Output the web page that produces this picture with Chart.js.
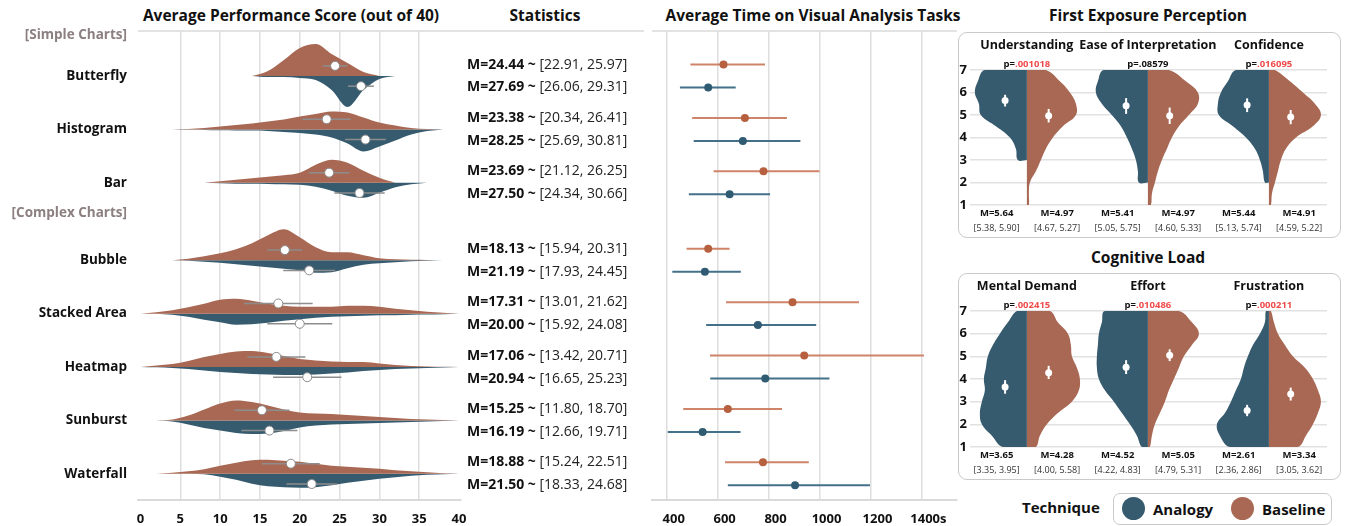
<!DOCTYPE html>
<html>
<head>
<meta charset="utf-8">
<title>Analogy vs Baseline</title>
<script src="https://cdn.jsdelivr.net/npm/chart.js@4.4.1/dist/chart.umd.min.js"></script>
<style>
  body { margin: 0; width: 1347px; height: 526px; position: relative; overflow: hidden; background: #fff; font-family: 'Open Sans', sans-serif; color: #111; }
  .abs { position: absolute; }
  .title { font-weight: 700; font-size: 15.5px; line-height: 20px; text-align: center; white-space: nowrap; }
  .rule { height: 2px; background: #e3e3e3; }
  .panel { border: 1.5px solid #cacaca; border-radius: 9px; box-sizing: border-box; }
  canvas { position: absolute; }
  .legend { border: 1.5px solid #cacaca; border-radius: 7px; box-sizing: border-box; }
  .dot { position: absolute; width: 23px; height: 23px; border-radius: 50%; }
  .lab { position: absolute; font-weight: 700; font-size: 15px; line-height: 20px; white-space: nowrap; }
</style>
</head>
<body>
<div class="abs title" style="left:141px;top:5px;width:300px">Average Performance Score (out of 40)</div>
<div class="abs title" style="left:495px;top:5px;width:100px">Statistics</div>
<div class="abs title" style="left:663px;top:5px;width:300px">Average Time on Visual Analysis Tasks</div>
<div class="abs title" style="left:998px;top:5px;width:300px">First Exposure Perception</div>
<div class="abs title" style="left:998px;top:247px;width:300px">Cognitive Load</div>
<div class="abs rule" style="left:138px;top:30px;width:323px"></div>
<div class="abs rule" style="left:440px;top:30px;width:204px"></div>
<div class="abs rule" style="left:652px;top:30px;width:305px"></div>
<div class="abs panel" style="left:958px;top:32px;width:383px;height:206px"></div>
<div class="abs panel" style="left:958px;top:273px;width:383px;height:207px"></div>

<canvas id="perf" width="480" height="526" style="left:0;top:0"></canvas>
<canvas id="time" width="530" height="526" style="left:440px;top:0"></canvas>
<canvas id="perception" width="391" height="206" style="left:950px;top:32px"></canvas>
<canvas id="load" width="391" height="207" style="left:950px;top:273px"></canvas>

<div class="lab" style="left:1022px;top:497px">Technique</div>
<div class="abs legend" style="left:1113px;top:493px;width:219px;height:32px">
  <div class="dot" style="left:8px;top:3px;background:#365b6f"></div>
  <div class="lab" style="left:39px;top:5px">Analogy</div>
  <div class="dot" style="left:117px;top:3px;background:#a86853"></div>
  <div class="lab" style="left:148px;top:5px">Baseline</div>
</div>

<script>
'use strict';

// Colours

const BROWN = '#a86853';
const TEAL = '#365b6f';
const TIME_BROWN = '#b6603f';
const TIME_BROWN_LINE = '#cf8469';
const TIME_TEAL = '#2f5b73';
const TIME_TEAL_LINE = '#45708a';

// Performance score data (baseline = brown, analogy = teal)

const categories = ['Butterfly', 'Histogram', 'Bar', 'Bubble', 'Stacked Area', 'Heatmap', 'Sunburst', 'Waterfall'];
const groupHeaders = ['[Simple Charts]', '[Complex Charts]'];
const scoreTicks = [0, 5, 10, 15, 20, 25, 30, 35, 40];
const scoreGrid = [0, 2, 4, 6, 8, 10, 12, 14, 16, 18, 20, 22, 24, 26, 28, 30, 32, 34, 36, 38, 40];

// violin half heights, one row per category
const baseDensity = [
  [0, 0, 0, 0, 0, 0, 0, 0, 5, 16, 28, 32, 22, 13, 4, 0, 0, 0, 0, 0, 0],
  [0, 0, 0, 0.5, 1.5, 3, 4.5, 6, 8, 10, 13, 15.5, 18, 17, 12, 7, 4, 1.5, 0.5, 0, 0],
  [0, 0, 0, 0, 0, 1.5, 3, 4.5, 6, 7.5, 10, 18, 23, 20, 12, 5, 0, 0, 0, 0, 0],
  [0, 0, 0, 1.5, 4, 7, 11, 17, 25, 31, 23, 13, 8, 8, 5, 2, 1, 0.5, 0.3, 0, 0],
  [0, 1.5, 3.5, 6.5, 10, 14, 15, 13, 10, 8, 7, 7, 7, 8, 8, 7, 5, 3.5, 2, 1, 0],
  [0, 1.5, 3, 6, 10, 13, 15.5, 16, 14, 11, 8, 6.5, 5.5, 5, 5, 3.5, 2, 1, 0.5, 0.2, 0],
  [0, 0, 1, 5, 11, 17, 20, 18.5, 15, 11, 8, 7, 6.5, 5.5, 4.5, 3.5, 2.5, 1.5, 1, 0.5, 0],
  [0, 0, 1, 2.5, 4.5, 8, 11, 13.5, 14, 13, 12, 10, 8, 7, 6, 5, 3.5, 2.5, 1.5, 0.5, 0]
];
const anaDensity = [
  [0, 0, 0, 0, 0, 0, 0, 0, 1, 1, 2, 4, 14, 31, 14, 3, 0, 0, 0, 0, 0],
  [0, 0, 0, 0.3, 0.5, 0.8, 1, 1.2, 1.5, 2.5, 3.5, 5, 8, 14, 22, 17, 11, 5, 1.5, 0, 0],
  [0, 0, 0, 0, 0, 0.5, 1, 1, 1.2, 1.5, 2, 4, 8, 13, 15, 10, 4.5, 1.5, 0, 0, 0],
  [0, 0, 0, 0.5, 1.5, 2.5, 4, 5.5, 7, 8.5, 10, 12.5, 12, 8, 4.5, 3, 2, 1, 0.5, 0, 0],
  [0, 0, 1, 3, 6, 8.5, 11, 10.5, 9, 7, 5.5, 4, 3, 2.5, 2, 1.5, 1.5, 1, 0.8, 0.5, 0],
  [0, 0.3, 1, 2, 3.5, 5, 6, 7, 7.5, 8, 8, 7.5, 6.5, 5.5, 4, 3, 2, 1.5, 1, 0.5, 0],
  [0, 0, 1, 4, 7.5, 10, 12.5, 13.5, 13, 10.5, 7, 5, 4, 3.5, 3, 2.5, 2, 1.5, 1, 0.5, 0],
  [0, 0, 0, 0, 0.5, 3, 6, 10, 12.5, 13.5, 14, 13.5, 11.5, 9, 7, 5, 3.5, 2, 1, 0.5, 0]
];

const baseMean = [24.44, 23.38, 23.69, 18.13, 17.31, 17.06, 15.25, 18.88];
const baseLo = [22.91, 20.34, 21.12, 15.94, 13.01, 13.42, 11.80, 15.24];
const baseHi = [25.97, 26.41, 26.25, 20.31, 21.62, 20.71, 18.70, 22.51];
const anaMean = [27.69, 28.25, 27.50, 21.19, 20.00, 20.94, 16.19, 21.50];
const anaLo = [26.06, 25.69, 24.34, 17.93, 15.92, 16.65, 12.66, 18.33];
const anaHi = [29.31, 30.81, 30.66, 24.45, 24.08, 25.23, 19.71, 24.68];

// Time on task data (seconds)

const timeTicks = [400, 600, 800, 1000, 1200, 1400];
const timeBaseMean = [623, 707, 780, 563, 894, 940, 640, 778];
const timeBaseLo = [493, 500, 584, 478, 633, 570, 465, 629];
const timeBaseHi = [786, 872, 1000, 647, 1155, 1410, 853, 958];
const timeAnaMean = [563, 699, 647, 550, 758, 787, 541, 904];
const timeAnaLo = [452, 506, 487, 422, 555, 571, 404, 640];
const timeAnaHi = [671, 925, 806, 691, 987, 1039, 690, 1198];

// Likert panels (widths of each violin half at 1, 1.5, ... 7)

const likertGrid = [1, 1.5, 2, 2.5, 3, 3.5, 4, 4.5, 5, 5.5, 6, 6.5, 7];

const percItems = ['Understanding', 'Ease of Interpretation', 'Confidence'];
const percP = ['.001018', '.08579', '.016095'];
const percSig = [true, false, true];
const percAnaWidth = [
  [null, null, null, null, 9, 11, 17, 31, 46, 48, 52, 49, 42],
  [null, null, 9, 10, 12, 16, 21, 27, 36, 46, 52, 50, 44],
  [null, null, 4, 6, 9, 14, 23, 36, 50, 51, 48, 41, 33]
];
const percBaseWidth = [
  [2, 2, 3, 9, 14, 19, 26, 36, 49, 49, 43, 33, 19],
  [3, 4, 7, 10, 14, 19, 24, 31, 41, 50, 50, 38, 21],
  [2, 3, 6, 9, 12, 17, 27, 44, 52, 46, 34, 21, 6]
];
const percAnaMean = [5.64, 5.41, 5.44];
const percAnaLo = [5.38, 5.05, 5.13];
const percAnaHi = [5.90, 5.75, 5.74];
const percBaseMean = [4.97, 4.97, 4.91];
const percBaseLo = [4.67, 4.60, 4.59];
const percBaseHi = [5.27, 5.33, 5.22];
const percAnaCi = ['[5.38, 5.90]', '[5.05, 5.75]', '[5.13, 5.74]'];
const percBaseCi = ['[4.67, 5.27]', '[4.60, 5.33]', '[4.59, 5.22]'];

const loadItems = ['Mental Demand', 'Effort', 'Frustration'];
const loadP = ['.002415', '.010486', '.000211'];
const loadSig = [true, true, true];
const loadAnaWidth = [
  [24, 35, 45, 47, 45, 42, 43, 41, 39, 34, 27, 19, 10],
  [6, 11, 18, 26, 34, 43, 49, 51, 51, 50, 49, 46, 43],
  [39, 49, 52, 44, 38, 33, 28, 25, 21, 16, 9, 4, 3]
];
const loadBaseWidth = [
  [9, 13, 20, 31, 45, 52, 53, 50, 45, 44, 41, 31, 23],
  [2, 4, 7, 12, 17, 21, 26, 31, 36, 44, 51, 44, 31],
  [29, 37, 44, 49, 52, 49, 44, 36, 24, 16, 9, 5, 2]
];
const loadAnaMean = [3.65, 4.52, 2.61];
const loadAnaLo = [3.35, 4.22, 2.36];
const loadAnaHi = [3.95, 4.83, 2.86];
const loadBaseMean = [4.28, 5.05, 3.34];
const loadBaseLo = [4.00, 4.79, 3.05];
const loadBaseHi = [4.58, 5.31, 3.62];
const loadAnaCi = ['[3.35, 3.95]', '[4.22, 4.83]', '[2.36, 2.86]'];
const loadBaseCi = ['[4.00, 5.58]', '[4.79, 5.31]', '[3.05, 3.62]'];

// Chart defaults

Chart.defaults.font.family = "'Open Sans', sans-serif";
Chart.defaults.color = '#111';
Chart.defaults.animation = false;
Chart.defaults.plugins.legend.display = false;
Chart.defaults.plugins.tooltip.enabled = false;

const FONT = "'Open Sans', sans-serif";
const CLEAR = 'rgba(0,0,0,0)';

// Layout of the rows (shared by the violin and the time chart)

const PERF_PX = 53.4;   // pixels per row step
const DOT_OFF = 0.19;   // mean dot offset from the violin split
const ROW_OFF = 0.215;  // time rows offset from the category centre
const catPos = categories.map((c, i) => i + (i >= 3 ? 0.45 : 0));
const headerPos = [-0.77, 2.57];
const perfTickPos = [headerPos[0], catPos[0], catPos[1], catPos[2], headerPos[1], ...catPos.slice(3)];
const perfTickText = [groupHeaders[0], ...categories.slice(0, 3), groupHeaders[1], ...categories.slice(3)];

function halfViolin(dens, base, dir) {
  let first = dens.findIndex(v => v > 0) - 1;
  let last = dens.length - [...dens].reverse().findIndex(v => v > 0);
  first = Math.max(first, 0);
  last = Math.min(last, dens.length - 1);
  let pts = [];
  for (let j = first; j <= last; j++) {
    pts.push({ x: scoreGrid[j], y: base + dir * dens[j] / PERF_PX });
  }
  return pts;
}

function segment(lo, hi, y, color, width) {
  return {
    data: [{ x: lo, y: y }, { x: hi, y: y }],
    showLine: true, borderColor: color, borderWidth: width,
    pointRadius: 0, fill: false, order: 2
  };
}

// Performance violins

let perfDatasets = [];
for (let i = 0; i < categories.length; i++) {
  perfDatasets.push({
    data: halfViolin(baseDensity[i], catPos[i], -1), backgroundColor: BROWN,
    fill: { value: catPos[i] }, order: 3
  });
  perfDatasets.push({
    data: halfViolin(anaDensity[i], catPos[i], 1), backgroundColor: TEAL,
    fill: { value: catPos[i] }, order: 3
  });
  perfDatasets.push(segment(baseLo[i], baseHi[i], catPos[i] - DOT_OFF, '#8d8d8d', 1.5));
  perfDatasets.push(segment(anaLo[i], anaHi[i], catPos[i] + DOT_OFF, '#8d8d8d', 1.5));
}
perfDatasets.forEach(ds => {
  if (ds.order === 3) {
    Object.assign(ds, { showLine: true, borderColor: CLEAR, borderWidth: 0, pointRadius: 0, cubicInterpolationMode: 'monotone' });
  }
});
perfDatasets.push({
  data: catPos.flatMap((p, i) => [{ x: baseMean[i], y: p - DOT_OFF }, { x: anaMean[i], y: p + DOT_OFF }]),
  pointRadius: 4.5, pointBackgroundColor: '#fff', pointBorderColor: '#8a8a8a', pointBorderWidth: 1,
  showLine: false, order: 1
});

new Chart(document.getElementById('perf'), {
  type: 'scatter',
  data: { datasets: perfDatasets },
  options: {
    responsive: false,
    layout: { padding: { top: 31, right: 19, left: 0, bottom: 0 } },
    scales: {
      x: {
        type: 'linear', min: -0.314, max: 40.25,
        afterBuildTicks: s => { s.ticks = scoreTicks.map(v => ({ value: v })); },
        afterFit: s => { s.height = 26; },
        ticks: { padding: 11, autoSkip: false, maxRotation: 0, font: { size: 13, weight: 'bold' }, color: '#111' },
        grid: {
          color: c => (c.tick && (c.tick.value === 0 || c.tick.value === 40)) ? CLEAR : '#dedede',
          lineWidth: 1.5, drawTicks: false
        },
        border: { color: '#dadada', width: 2 }
      },
      y: {
        type: 'linear', reverse: true, min: -0.843, max: 7.94,
        afterBuildTicks: s => { s.ticks = perfTickPos.map(v => ({ value: v })); },
        afterFit: s => { s.width = 138; },
        ticks: {
          padding: 11, autoSkip: false, font: { size: 13.5, weight: 'bold' },
          color: c => (c.tick && headerPos.includes(c.tick.value)) ? '#8b7f80' : '#111',
          callback: (v, i) => perfTickText[i]
        },
        grid: { display: false, drawTicks: false },
        border: { display: false }
      }
    }
  }
});

// Statistics text and time chart

const STATS_X = 27;

function drawStat(ctx, m, lo, hi, py) {
  const head = 'M=' + m.toFixed(2) + ' ~ ';
  const tail = '[' + lo.toFixed(2) + ', ' + hi.toFixed(2) + ']';
  ctx.font = 'bold 14px ' + FONT;
  ctx.fillStyle = '#111';
  ctx.fillText(head, STATS_X, py);
  const w = ctx.measureText(head).width;
  ctx.font = '14px ' + FONT;
  ctx.fillStyle = '#222';
  ctx.fillText(tail, STATS_X + w, py);
}

const statsText = {
  id: 'statsText',
  afterDraw(chart) {
    const { ctx } = chart;
    const y = chart.scales.y;
    ctx.save();
    ctx.textBaseline = 'middle';
    ctx.textAlign = 'left';
    for (let i = 0; i < categories.length; i++) {
      drawStat(ctx, baseMean[i], baseLo[i], baseHi[i], y.getPixelForValue(catPos[i] - ROW_OFF));
      drawStat(ctx, anaMean[i], anaLo[i], anaHi[i], y.getPixelForValue(catPos[i] + ROW_OFF));
    }
    ctx.restore();
  }
};

let timeDatasets = [];
for (let i = 0; i < categories.length; i++) {
  timeDatasets.push(segment(timeBaseLo[i], timeBaseHi[i], catPos[i] - ROW_OFF, TIME_BROWN_LINE, 2));
  timeDatasets.push(segment(timeAnaLo[i], timeAnaHi[i], catPos[i] + ROW_OFF, TIME_TEAL_LINE, 2));
}
timeDatasets.push({
  data: catPos.map((p, i) => ({ x: timeBaseMean[i], y: p - ROW_OFF })),
  pointRadius: 4, pointBackgroundColor: TIME_BROWN, pointBorderWidth: 0, showLine: false, order: 1
});
timeDatasets.push({
  data: catPos.map((p, i) => ({ x: timeAnaMean[i], y: p + ROW_OFF })),
  pointRadius: 4, pointBackgroundColor: TIME_TEAL, pointBorderWidth: 0, showLine: false, order: 1
});

new Chart(document.getElementById('time'), {
  type: 'scatter',
  data: { datasets: timeDatasets },
  plugins: [statsText],
  options: {
    responsive: false,
    layout: { padding: { top: 31, right: 13, left: 212, bottom: 0 } },
    scales: {
      x: {
        type: 'linear', min: 342.3, max: 1539.8,
        afterBuildTicks: s => { s.ticks = timeTicks.map(v => ({ value: v })); },
        afterFit: s => { s.height = 26; },
        ticks: {
          padding: 11, labelOffset: 7, autoSkip: false, maxRotation: 0,
          font: { size: 13, weight: 'bold' }, color: '#111',
          callback: v => v === 1400 ? '1400s' : String(v)
        },
        grid: { color: '#dedede', lineWidth: 1.5, drawTicks: false },
        border: { color: '#dadada', width: 2 }
      },
      y: { type: 'linear', reverse: true, min: -0.843, max: 7.94, display: false }
    }
  }
});

// Likert split violins

const LIKERT_PX = 121;   // pixels per item step
const LIKERT_DOT = 0.18;
const LIKERT_LABEL = 0.25;

function vHalf(widths, g, dir) {
  const idx = widths.map((w, i) => w === null ? -1 : i).filter(i => i >= 0);
  const y0 = likertGrid[idx[0]];
  const y1 = likertGrid[idx[idx.length - 1]];
  let pts = [{ x: g, y: y0 }, { x: g, y: y0 }];
  idx.forEach(i => pts.push({ x: g + dir * widths[i] / LIKERT_PX, y: likertGrid[i] }));
  pts.push({ x: g, y: y1 }, { x: g, y: y1 });
  return pts;
}

function panelText(items, pVals, pSig, anaMeans, baseMeans, anaCi, baseCi) {
  return {
    id: 'panelText',
    afterDraw(chart) {
      const { ctx, chartArea } = chart;
      const x = chart.scales.x;
      ctx.save();
      ctx.textBaseline = 'middle';
      items.forEach((name, g) => {
        const cx = x.getPixelForValue(g);
        ctx.textAlign = 'center';
        ctx.fillStyle = '#111';
        ctx.font = 'bold 12.5px ' + FONT;
        ctx.fillText(name, cx, chartArea.top - 25);

        ctx.font = 'bold 9.5px ' + FONT;
        const w1 = ctx.measureText('p=').width;
        const w2 = ctx.measureText(pVals[g]).width;
        const sx = cx - (w1 + w2) / 2;
        ctx.textAlign = 'left';
        ctx.fillText('p=', sx, chartArea.top - 6);
        ctx.fillStyle = pSig[g] ? '#f04a4a' : '#111';
        ctx.fillText(pVals[g], sx + w1, chartArea.top - 6);

        ctx.textAlign = 'center';
        ctx.fillStyle = '#111';
        ctx.font = 'bold 9.5px ' + FONT;
        ctx.fillText('M=' + anaMeans[g].toFixed(2), x.getPixelForValue(g - LIKERT_LABEL), chartArea.bottom + 8);
        ctx.fillText('M=' + baseMeans[g].toFixed(2), x.getPixelForValue(g + LIKERT_LABEL), chartArea.bottom + 8);
        ctx.font = '9px ' + FONT;
        ctx.fillStyle = '#333';
        ctx.fillText(anaCi[g], x.getPixelForValue(g - LIKERT_LABEL), chartArea.bottom + 23);
        ctx.fillText(baseCi[g], x.getPixelForValue(g + LIKERT_LABEL), chartArea.bottom + 23);
      });
      ctx.restore();
    }
  };
}

function likertChart(id, items, pVals, pSig, anaW, baseW, aMean, aLo, aHi, bMean, bLo, bHi, aCi, bCi) {
  let datasets = [];
  items.forEach((name, g) => {
    datasets.push({ data: vHalf(anaW[g], g, -1), backgroundColor: TEAL, order: 3 });
    datasets.push({ data: vHalf(baseW[g], g, 1), backgroundColor: BROWN, order: 3 });
  });
  datasets.forEach(ds => {
    Object.assign(ds, { showLine: true, fill: 'shape', tension: 0.4, borderColor: CLEAR, borderWidth: 0, pointRadius: 0 });
  });
  items.forEach((name, g) => {
    datasets.push({
      data: [{ x: g - LIKERT_DOT, y: aLo[g] }, { x: g - LIKERT_DOT, y: aHi[g] }],
      showLine: true, borderColor: '#fff', borderWidth: 2, pointRadius: 0, fill: false, order: 2
    });
    datasets.push({
      data: [{ x: g + LIKERT_DOT, y: bLo[g] }, { x: g + LIKERT_DOT, y: bHi[g] }],
      showLine: true, borderColor: '#fff', borderWidth: 2, pointRadius: 0, fill: false, order: 2
    });
  });
  datasets.push({
    data: items.flatMap((name, g) => [{ x: g - LIKERT_DOT, y: aMean[g] }, { x: g + LIKERT_DOT, y: bMean[g] }]),
    pointRadius: 3.5, pointBackgroundColor: '#fff', pointBorderWidth: 0, showLine: false, order: 1
  });

  new Chart(document.getElementById(id), {
    type: 'scatter',
    data: { datasets: datasets },
    plugins: [panelText(items, pVals, pSig, aMean, bMean, aCi, bCi)],
    options: {
      responsive: false,
      layout: { padding: { top: 38, bottom: 33, right: 14, left: 0 } },
      scales: {
        x: { type: 'linear', min: -0.47, max: 2.48, display: false },
        y: {
          type: 'linear', min: 1, max: 7,
          afterFit: s => { s.width = 20; },
          ticks: { stepSize: 1, padding: 3, font: { size: 13, weight: 'bold' }, color: '#111' },
          grid: { color: '#e2e2e2', lineWidth: 1.5, drawTicks: false },
          border: { display: false }
        }
      }
    }
  });
}

likertChart('perception', percItems, percP, percSig, percAnaWidth, percBaseWidth,
  percAnaMean, percAnaLo, percAnaHi, percBaseMean, percBaseLo, percBaseHi, percAnaCi, percBaseCi);
likertChart('load', loadItems, loadP, loadSig, loadAnaWidth, loadBaseWidth,
  loadAnaMean, loadAnaLo, loadAnaHi, loadBaseMean, loadBaseLo, loadBaseHi, loadAnaCi, loadBaseCi);
</script>
</body>
</html>
